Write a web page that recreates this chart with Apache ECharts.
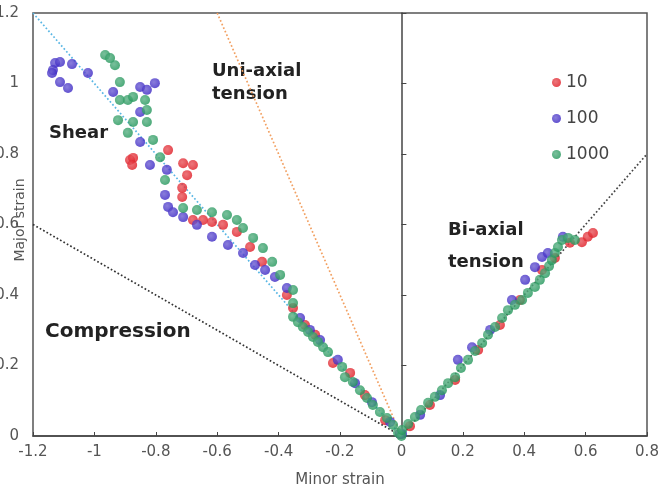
<!DOCTYPE html>
<html>
<head>
<meta charset="utf-8">
<title>Strain path</title>
<script src="https://cdn.jsdelivr.net/npm/echarts@6/dist/echarts.min.js"></script>
<style>
  html, body { margin: 0; padding: 0; background: #fff; }
  #chart { width: 661px; height: 492px; }
</style>
</head>
<body>
<div id="chart"></div>
<script>
// minor strain, major strain
const series10 = [
  [-0.884, 0.783], [-0.874, 0.789], [-0.877, 0.769], [-0.760, 0.811], [-0.711, 0.774],
  [-0.679, 0.769], [-0.698, 0.740], [-0.714, 0.704], [-0.714, 0.678], [-0.679, 0.613],
  [-0.646, 0.613], [-0.617, 0.607], [-0.581, 0.599], [-0.536, 0.579], [-0.493, 0.536],
  [-0.454, 0.494], [-0.373, 0.400], [-0.353, 0.363], [-0.314, 0.315], [-0.281, 0.287],
  [-0.223, 0.207], [-0.167, 0.179], [-0.119, 0.116], [-0.053, 0.045], [-0.005, 0.006],
  [0.028, 0.028], [0.093, 0.088], [0.175, 0.159], [0.250, 0.244], [0.321, 0.315],
  [0.386, 0.386], [0.458, 0.471], [0.500, 0.505], [0.549, 0.548], [0.588, 0.550],
  [0.607, 0.565], [0.624, 0.576]
]

const series100 = [
  [-1.128, 1.058], [-1.112, 1.061], [-1.135, 1.038], [-1.138, 1.030], [-1.112, 1.004],
  [-1.086, 0.987], [-1.073, 1.055], [-1.021, 1.030], [-0.939, 0.976], [-0.851, 0.990],
  [-0.829, 0.982], [-0.803, 1.001], [-0.851, 0.919], [-0.851, 0.834], [-0.819, 0.769],
  [-0.764, 0.755], [-0.770, 0.684], [-0.760, 0.650], [-0.744, 0.635], [-0.711, 0.621],
  [-0.666, 0.599], [-0.617, 0.565], [-0.565, 0.542], [-0.516, 0.519], [-0.477, 0.485],
  [-0.444, 0.471], [-0.412, 0.451], [-0.373, 0.420], [-0.330, 0.335], [-0.298, 0.301],
  [-0.265, 0.272], [-0.207, 0.216], [-0.151, 0.150], [-0.096, 0.096], [-0.037, 0.040],
  [-0.005, 0.006], [0.002, 0.006], [0.061, 0.060], [0.126, 0.116], [0.184, 0.216],
  [0.230, 0.252], [0.289, 0.301], [0.360, 0.386], [0.403, 0.443], [0.435, 0.479],
  [0.458, 0.508], [0.477, 0.519], [0.526, 0.565]
]

const series1000 = [
  [-0.965, 1.081], [-0.949, 1.072], [-0.933, 1.052], [-0.917, 1.004], [-0.917, 0.953],
  [-0.891, 0.953], [-0.874, 0.962], [-0.835, 0.953], [-0.829, 0.925], [-0.923, 0.896],
  [-0.874, 0.891], [-0.829, 0.891], [-0.891, 0.860], [-0.809, 0.840], [-0.786, 0.791],
  [-0.770, 0.726], [-0.711, 0.647], [-0.666, 0.641], [-0.617, 0.635], [-0.568, 0.627],
  [-0.536, 0.613], [-0.516, 0.590], [-0.483, 0.562], [-0.451, 0.533], [-0.421, 0.494],
  [-0.395, 0.457], [-0.353, 0.414], [-0.353, 0.377], [-0.353, 0.338], [-0.337, 0.323],
  [-0.321, 0.309], [-0.304, 0.295], [-0.288, 0.281], [-0.272, 0.267], [-0.255, 0.252],
  [-0.239, 0.238], [-0.193, 0.196], [-0.184, 0.167], [-0.158, 0.153], [-0.135, 0.130],
  [-0.112, 0.108], [-0.093, 0.088], [-0.070, 0.068], [-0.047, 0.051], [-0.027, 0.031],
  [-0.011, 0.009], [0.000, 0.000], [0.002, 0.017], [0.022, 0.034], [0.044, 0.054],
  [0.064, 0.074], [0.087, 0.094], [0.109, 0.111], [0.132, 0.130], [0.152, 0.150],
  [0.175, 0.167], [0.194, 0.193], [0.217, 0.216], [0.240, 0.241], [0.263, 0.264],
  [0.282, 0.287], [0.305, 0.309], [0.328, 0.335], [0.347, 0.357], [0.370, 0.372],
  [0.393, 0.386], [0.412, 0.406], [0.435, 0.423], [0.451, 0.443], [0.468, 0.462],
  [0.481, 0.482], [0.490, 0.499], [0.500, 0.519], [0.510, 0.536], [0.523, 0.556],
  [0.543, 0.562], [0.565, 0.556]
]

// guide lines for the strain states
const shearLine = [[-1.2, 1.2], [0, 0]]
const uniaxialLine = [[-0.6, 1.2], [0, 0]]
const compressionLine = [[-1.2, 0.6], [0, 0]]
const biaxialLine = [[0, 0], [0.8, 0.8]]

const seriesNames = ['10', '100', '1000']
const seriesColors = ['#e01b24', '#3b27c4', '#22965a']

const chart = echarts.init(document.getElementById('chart'))

const dotted = (data, color) => ({
  type: 'line',
  data: data,
  symbol: 'none',
  silent: true,
  z: 1,
  lineStyle: { color: color, width: 1.7, type: [1.7, 2.2] }
})

const scatter = (name, data, color) => ({
  name: name,
  type: 'scatter',
  data: data,
  symbolSize: 10,
  z: 3,
  itemStyle: {
    color: {
      type: 'radial', x: 0.4, y: 0.4, r: 0.6,
      colorStops: [
        { offset: 0, color: echarts.color.lift(color, 0.25) },
        { offset: 1, color: color }
      ]
    }
  }
})

const font = 'DejaVu Sans'

chart.setOption({
  animation: false,
  textStyle: { fontFamily: font },
  grid: {
    left: 33,
    right: 14,
    top: 13,
    bottom: 56,
    containLabel: false,
    outerBoundsMode: 'none',
    show: true,
    borderColor: '#555',
    borderWidth: 1.5
  },
  legend: {
    data: seriesNames,
    orient: 'vertical',
    left: 547,
    top: 69,
    itemWidth: 9,
    itemHeight: 9,
    itemGap: 19,
    icon: 'circle',
    textStyle: { fontSize: 17, color: '#444', fontFamily: font }
  },
  xAxis: {
    type: 'value',
    min: -1.2,
    max: 0.8,
    interval: 0.2,
    name: 'Minor strain',
    nameLocation: 'middle',
    nameGap: 37,
    nameTextStyle: { fontSize: 15, color: '#555', fontFamily: font },
    splitLine: { show: false },
    axisLine: { lineStyle: { color: '#444', width: 1.5 } },
    axisTick: { inside: true, length: 4, lineStyle: { color: '#444' } },
    axisLabel: { fontSize: 15, color: '#555', margin: 9 }
  },
  yAxis: {
    type: 'value',
    min: 0,
    max: 1.2,
    interval: 0.2,
    splitLine: { show: false },
    axisLine: { show: true, onZero: true, lineStyle: { color: '#444', width: 1.5 } },
    axisTick: { show: true, inside: true, length: 5, lineStyle: { color: '#444' } },
    axisLabel: { fontSize: 15, color: '#555', margin: 14 }
  },
  graphic: [
    { type: 'text', x: 20, y: 220, rotation: Math.PI / 2, style: { text: 'Major strain', font: '14px DejaVu Sans', fill: '#555', align: 'center', verticalAlign: 'middle' } },
    { type: 'text', left: 49, top: 124, style: { text: 'Shear', font: 'bold 18px DejaVu Sans', fill: '#222' } },
    { type: 'text', left: 212, top: 60, style: { text: 'Uni-axial\ntension', font: 'bold 18px DejaVu Sans', fill: '#222', lineHeight: 23 } },
    { type: 'text', left: 45, top: 322, style: { text: 'Compression', font: 'bold 20px DejaVu Sans', fill: '#222' } },
    { type: 'text', left: 448, top: 214, style: { text: 'Bi-axial\ntension', font: 'bold 18px DejaVu Sans', fill: '#222', lineHeight: 32 } }
  ],
  series: [
    dotted(shearLine, '#58b6e4'),
    dotted(uniaxialLine, '#f2a062'),
    dotted(compressionLine, '#333'),
    dotted(biaxialLine, '#444'),
    scatter(seriesNames[0], series10, seriesColors[0]),
    scatter(seriesNames[1], series100, seriesColors[1]),
    scatter(seriesNames[2], series1000, seriesColors[2])
  ]
})
</script>
</body>
</html>
